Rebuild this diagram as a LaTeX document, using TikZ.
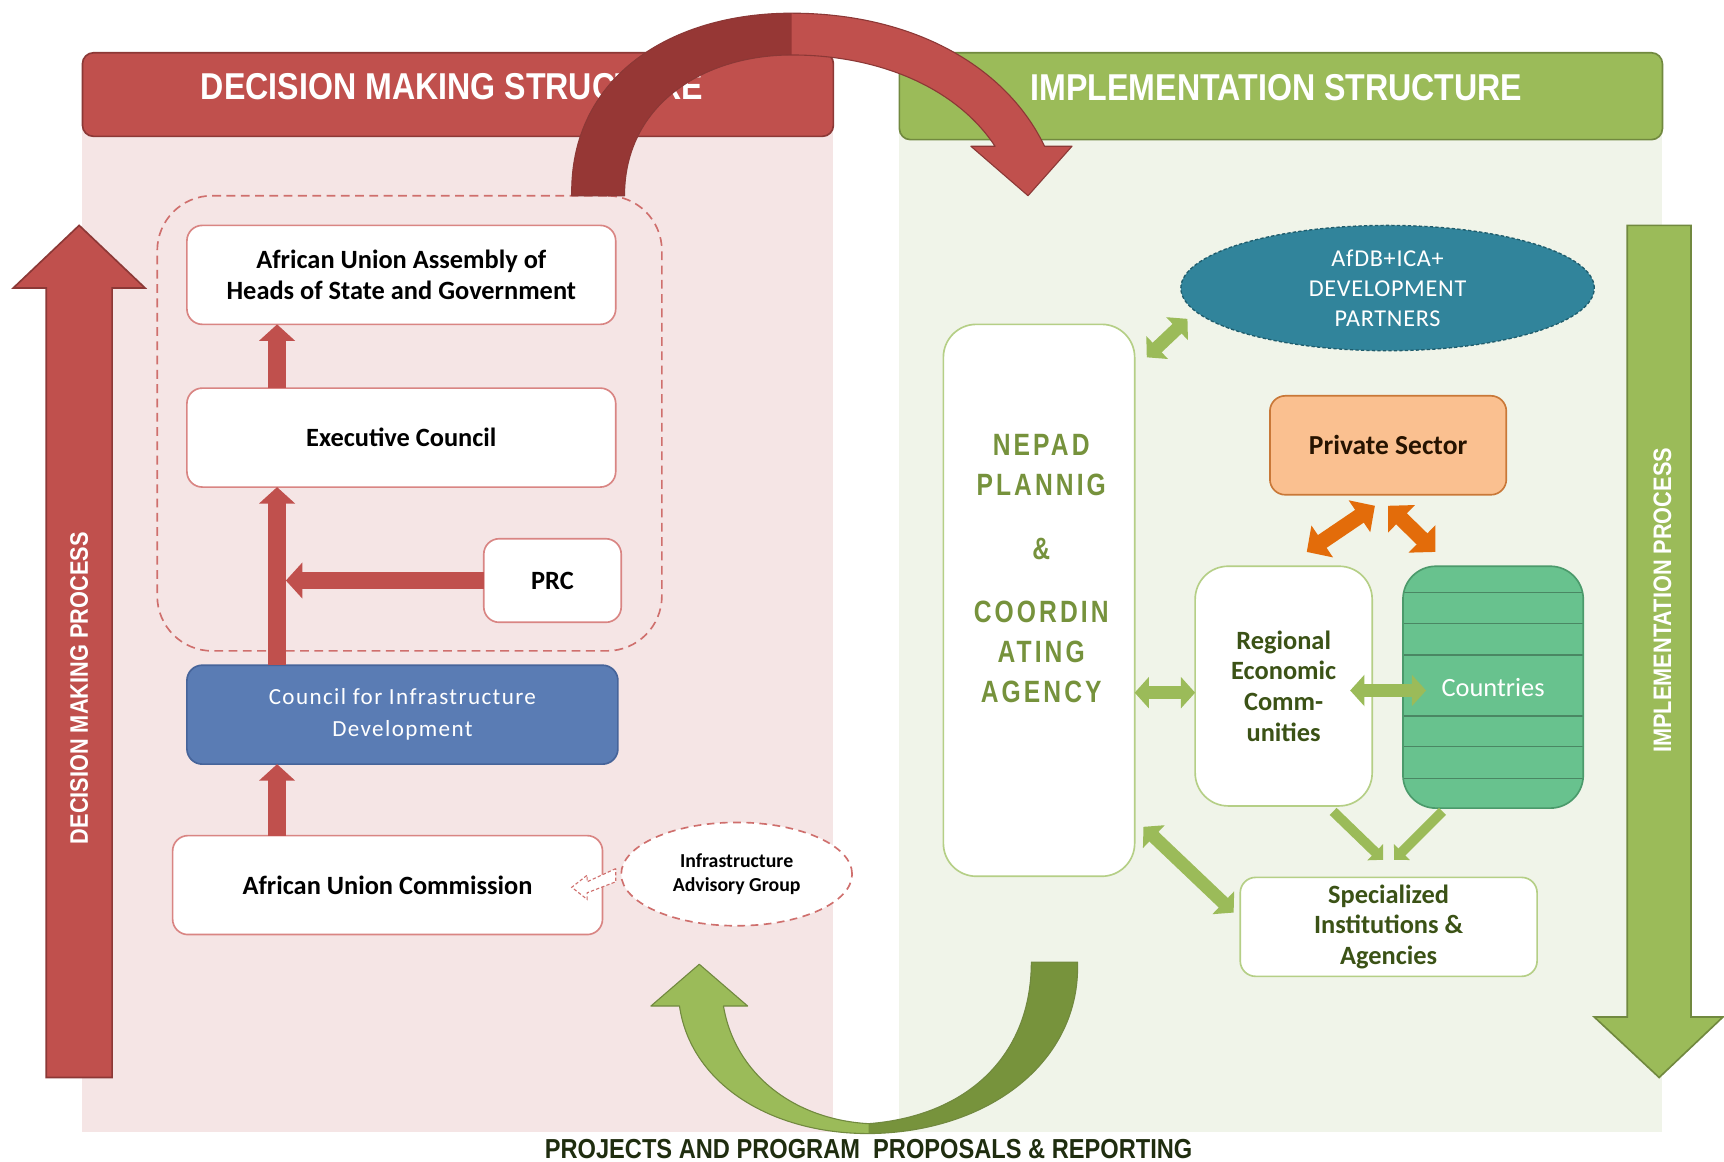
\documentclass[tikz,border=0pt]{standalone}
\usepackage{fontspec}
\setmainfont{Carlito}
\newfontfamily\agency[FakeStretch=0.86]{Liberation Sans}
\newfontfamily\agencysp[FakeStretch=0.8,LetterSpace=10]{Liberation Sans}
\newfontfamily\spacedc[LetterSpace=6]{Carlito}
\newfontfamily\spaceda[LetterSpace=3]{Carlito}
\usetikzlibrary{arrows.meta,calc,shapes.geometric}
\definecolor{redhead}{HTML}{C0504D}
\definecolor{redborder}{HTML}{8C3836}
\definecolor{darkred}{HTML}{963735}
\definecolor{pinkbg}{HTML}{F5E5E5}
\definecolor{greenhead}{HTML}{9BBB59}
\definecolor{greenborder}{HTML}{71893F}
\definecolor{greenbg}{HTML}{F0F4E9}
\definecolor{boxred}{HTML}{D98583}
\definecolor{dashred}{HTML}{CF6F6D}
\definecolor{cidblue}{HTML}{5A7CB4}
\definecolor{cidborder}{HTML}{46649A}
\definecolor{teal}{HTML}{31849B}
\definecolor{tealborder}{HTML}{1F5C6C}
\definecolor{orangebox}{HTML}{FAC090}
\definecolor{orangeborder}{HTML}{C97838}
\definecolor{orangearr}{HTML}{E36C0A}
\definecolor{ctygreen}{HTML}{68C28E}
\definecolor{ctyborder}{HTML}{4B9A6B}
\definecolor{ctyline}{HTML}{4A8763}
\definecolor{boxgreen}{HTML}{B5CF86}
\definecolor{txtgreen}{HTML}{3B5216}
\definecolor{nepadgreen}{HTML}{76923C}
\definecolor{arrgreen}{HTML}{9BBB59}
\definecolor{darkgreen}{HTML}{77933C}
\definecolor{bottomtxt}{HTML}{1F2D0F}
\begin{document}
\begin{tikzpicture}[x=1pt,y=-1pt,
  every node/.style={inner sep=0pt,outer sep=0pt},
  header/.style={rounded corners=10pt,line width=1.5pt},
  headtxt/.style={text=white,font=\agency\bfseries\fontsize{34}{38}\selectfont},
  rbox/.style={draw=boxred,line width=1.5pt,fill=white,rounded corners=14pt,
    align=center,font=\bfseries\fontsize{24}{29}\selectfont},
  gbox/.style={draw=boxgreen,line width=1.5pt,fill=white,rounded corners=14pt,
    align=center,text=txtgreen,font=\bfseries\fontsize{24}{28}\selectfont},
  redarr/.style={draw=redhead,line width=16pt,-{Triangle[width=32pt,length=15pt]}},
  garr/.style={draw=arrgreen,line width=12pt,
    {Triangle[width=28pt,length=13pt]}-{Triangle[width=28pt,length=13pt]}},
  gsingle/.style={draw=arrgreen,line width=9pt,-{Triangle[width=20pt,length=10pt]}},
  oarr/.style={draw=orangearr,line width=14pt,
    {Triangle[width=34pt,length=17pt]}-{Triangle[width=34pt,length=17pt]}},
  sidetxt/.style={rotate=90,text=white,font=\agency\bfseries\fontsize{23}{28}\selectfont}
]
\useasboundingbox (0,0) rectangle (1568,1056);
\fill[white] (0,0) rectangle (1568,1056);
% backgrounds
\fill[pinkbg] (75,110) rectangle (758,1030);
\fill[greenbg] (818,115) rectangle (1512,1030);
% headers
\node[header,draw=redborder,fill=redhead,minimum width=683pt,minimum height=76pt] (lhead) at (416.5,86) {};
\node[headtxt] (lheadtxt) at (411,79) {DECISION MAKING STRUCTURE};
\node[header,draw=greenborder,fill=greenhead,minimum width=694pt,minimum height=79pt] (rhead) at (1165,87.5) {};
\node[headtxt] (rheadtxt) at (1161,80) {IMPLEMENTATION STRUCTURE};
% side arrows
\draw[draw=redborder,fill=redhead,line width=1.5pt] (42,980) -- (42,262) -- (12,262) -- (72,205) -- (132,262) -- (102,262) -- (102,980) -- cycle;
\node[sidetxt] (dmp) at (72,626) {DECISION MAKING PROCESS};
\draw[draw=greenborder,fill=greenhead,line width=1.5pt] (1480,205) -- (1538,205) -- (1538,925) -- (1567,925) -- (1509,980) -- (1450,925) -- (1480,925) -- cycle;
\node[sidetxt] (imp) at (1512,546) {IMPLEMENTATION PROCESS};
% decision structure
\node[draw=dashred,line width=1.5pt,dash pattern=on 8pt off 5pt,rounded corners=50pt,minimum width=459pt,minimum height=414pt] (group) at (372.5,385) {};
\node[rbox,minimum width=390pt,minimum height=90pt] (assembly) at (365,250) {African Union Assembly of\\Heads of State and Government};
\node[rbox,minimum width=390pt,minimum height=90pt] (exec) at (365,398) {Executive Council};
\node[rbox,minimum width=125pt,minimum height=76pt] (prc) at (502.5,528) {PRC};
\node[draw=cidborder,fill=cidblue,line width=1.5pt,rounded corners=14pt,minimum width=392pt,minimum height=90pt,align=center,text=white,font=\spacedc\fontsize{21}{29}\selectfont] (cid) at (366,650) {Council for Infrastructure\\Development};
\node[rbox,minimum width=391pt,minimum height=90pt] (auc) at (352.5,805) {African Union Commission};
\node[ellipse,draw=dashred,fill=white,line width=1.5pt,dash pattern=on 7pt off 5pt,minimum width=210pt,minimum height=94pt,align=center,font=\bfseries\fontsize{18}{22}\selectfont] (iag) at (670,795) {Infrastructure\\Advisory Group};
\coordinate (shaftR) at ([xshift=90pt]cid.north west);
\draw[redarr] ([xshift=82pt]exec.north west) -- ([xshift=82pt]assembly.south west);
\draw[redarr] ([xshift=82pt]cid.north west) -- ([xshift=82pt]exec.south west);
\draw[redarr] (prc.west) -- (prc.west -| shaftR);
\draw[redarr] ([xshift=95pt]auc.north west) -- ([xshift=82pt]cid.south west);
% dashed advisory arrow
\draw[draw=dashred,fill=white,line width=1pt,dash pattern=on 3pt off 2pt]
  ($(iag.west)+(-5,-5)$) -- ($(auc.east)+(-14,-3)$) -- ($(auc.east)+(-14,-9)$) -- ($(auc.east)+(-28,2)$)
  -- ($(auc.east)+(-14,13)$) -- ($(auc.east)+(-14,7)$) -- ($(iag.west)+(-5,7)$) -- cycle;
% implementation structure
\node[draw=boxgreen,fill=white,line width=1.5pt,rounded corners=30pt,minimum width=174pt,minimum height=502pt] (nepad) at (945,546) {};
\node[align=center,text=nepadgreen,font=\agencysp\bfseries\fontsize{28}{36}\selectfont] (nepadtxt) at (947,517) {NEPAD\\PLANNIG\\[22pt]\&\\[22pt]COORDIN\\ATING\\AGENCY};
\node[ellipse,draw=tealborder,fill=teal,line width=1.2pt,densely dashed,minimum width=376pt,minimum height=114pt,align=center,text=white,font=\spaceda\fontsize{22}{27.5}\selectfont] (afdb) at (1262,262) {AfDB+ICA+\\DEVELOPMENT\\PARTNERS};
\node[draw=orangeborder,fill=orangebox,line width=1.5pt,rounded corners=14pt,minimum width=215pt,minimum height=90pt,font=\bfseries\fontsize{25}{28}\selectfont,text=black!85!orange] (private) at (1262.5,405) {Private Sector};
\node[gbox,rounded corners=30pt,minimum width=161pt,minimum height=218pt] (rec) at (1167.5,624) {Regional\\Economic\\Comm-\\unities};
\node[fill=ctygreen,rounded corners=30pt,minimum width=164pt,minimum height=220pt] (countries) at (1358,625) {};
\begin{scope}
\clip[rounded corners=30pt] (countries.north west) rectangle (countries.south east);
\foreach \dy in {24,52,81,136,164,193}
  \draw[ctyline,line width=1.5pt] ($(countries.north west)+(0,\dy)$) -- ++(164,0);
\end{scope}
\draw[ctyborder,line width=1.5pt,rounded corners=30pt] (countries.north west) rectangle (countries.south east);
\node[text=white,font=\fontsize{24}{26}\selectfont] (ctylabel) at (countries.center) {Countries};
\node[gbox,minimum width=270pt,minimum height=90pt] (spec) at (1263,843) {Specialized\\Institutions \&\\Agencies};
% green arrows
\draw[garr] ($(nepad.north east)+(11,30)$) -- ($(nepad.north east)+(48,-5)$);
\draw[garr] ([yshift=-6pt]nepad.east |- rec.center) -- ([yshift=-6pt]rec.west);
\draw[garr] ([xshift=-20pt,yshift=-4pt]rec.east) -- ([xshift=21pt,yshift=-3pt]countries.west);
\draw[garr] ($(nepad.south east)+(8,-45)$) -- ($(spec.west)+(-6,-13)$);
\draw[gsingle] ($(rec.south)+(45,5)$) -- ($(spec.north)+(-5,-16)$);
\draw[gsingle] ($(countries.south)+(-46,3)$) -- ($(spec.north)+(5,-16)$);
% orange arrows
\draw[oarr] ($(private.south)+(-74,52)$) -- ($(private.south)+(-12,10)$);
\draw[oarr] ($(private.south)+(0,10)$) -- ($(private.south)+(43,52)$);
% big red curved arrow
\fill[darkred] (520,178) .. controls (518,70) and (610,12) .. (720,12) -- (725,12) -- (725,50) -- (720,50) .. controls (640,50) and (568,95) .. (568,178) -- cycle;
\fill[redhead] (720,12) .. controls (830,12) and (915,60) .. (950,133) -- (975,133) -- (935,178) -- (883,133) -- (905,133) .. controls (870,80) and (800,50) .. (720,50) -- cycle;
\draw[redborder,line width=1pt,line join=round] (520,178) .. controls (518,70) and (610,12) .. (720,12) .. controls (830,12) and (915,60) .. (950,133) -- (975,133) -- (935,178) -- (883,133) -- (905,133) .. controls (870,80) and (800,50) .. (720,50) .. controls (640,50) and (568,95) .. (568,178) -- cycle;
% big green curved arrow
\fill[greenhead] (794,1031) -- (790,1031) .. controls (700,1031) and (628,985) .. (618,915) -- (592,915) -- (636,877) -- (680,915) -- (658,915) .. controls (668,975) and (720,1018) .. (790,1022) -- (794,1022) -- cycle;
\fill[darkgreen] (980,875) .. controls (983,965) and (900,1030) .. (790,1031) -- (790,1022) .. controls (880,1015) and (938,960) .. (938,875) -- cycle;
\draw[greenborder,line width=1pt,line join=round] (980,875) .. controls (983,965) and (900,1030) .. (790,1031) .. controls (700,1031) and (628,985) .. (618,915) -- (592,915) -- (636,877) -- (680,915) -- (658,915) .. controls (668,975) and (720,1018) .. (790,1022) .. controls (880,1015) and (938,960) .. (938,875) -- cycle;
\node[text=bottomtxt,font=\agency\bfseries\fontsize{25}{28}\selectfont] (bottom) at (790,1045) {PROJECTS AND PROGRAM\ \ PROPOSALS \& REPORTING};
\end{tikzpicture}
\end{document}
